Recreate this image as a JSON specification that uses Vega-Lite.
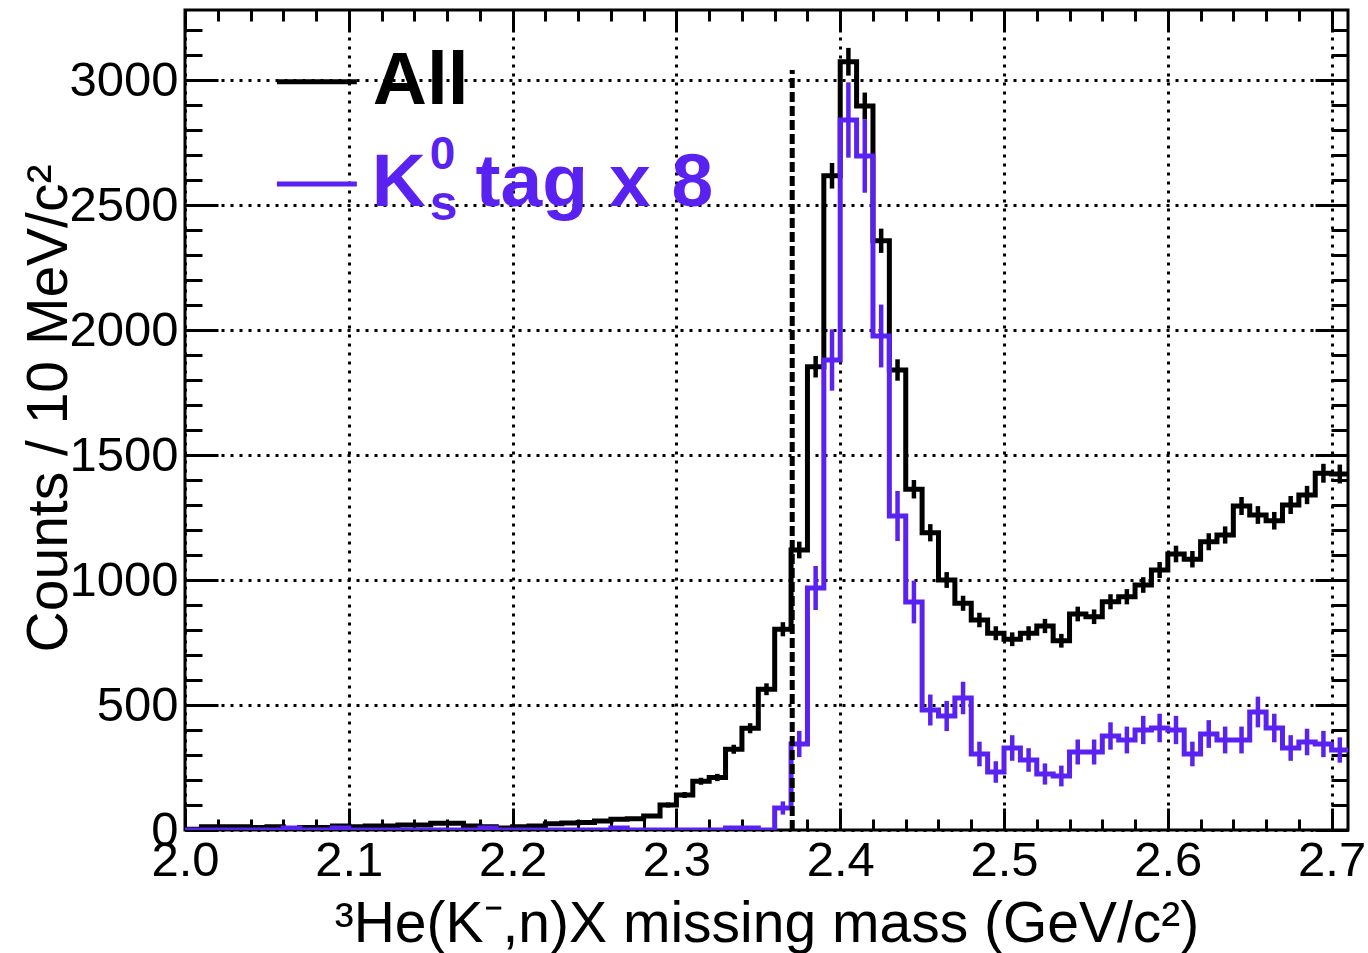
{
  "$schema": "https://vega.github.io/schema/vega-lite/v6.json",
  "width": 1163,
  "height": 820,
  "autosize": {"type": "none"},
  "padding": {"left": 185, "top": 10, "right": 20, "bottom": 123},
  "background": "white",
  "config": {
    "view": {"stroke": "black", "strokeWidth": 3},
    "font": "Liberation Sans",
    "axis": {"labelFont": "Liberation Sans", "titleFont": "Liberation Sans", "labelColor": "black", "titleColor": "black", "tickColor": "black", "titleFontWeight": "normal"}
  },
  "data": {"values": [{}]},
  "datasets": {
    "all": [
      {"x": 2.00, "xc": 2.005, "y": 3, "err": 1.7},
      {"x": 2.01, "xc": 2.015, "y": 13, "err": 3.6},
      {"x": 2.02, "xc": 2.025, "y": 13, "err": 3.6},
      {"x": 2.03, "xc": 2.035, "y": 13, "err": 3.6},
      {"x": 2.04, "xc": 2.045, "y": 10, "err": 3.2},
      {"x": 2.05, "xc": 2.055, "y": 13, "err": 3.6},
      {"x": 2.06, "xc": 2.065, "y": 6, "err": 2.4},
      {"x": 2.07, "xc": 2.075, "y": 10, "err": 3.2},
      {"x": 2.08, "xc": 2.085, "y": 10, "err": 3.2},
      {"x": 2.09, "xc": 2.095, "y": 16, "err": 4},
      {"x": 2.10, "xc": 2.105, "y": 13, "err": 3.6},
      {"x": 2.11, "xc": 2.115, "y": 16, "err": 4},
      {"x": 2.12, "xc": 2.125, "y": 16, "err": 4},
      {"x": 2.13, "xc": 2.135, "y": 20, "err": 4.5},
      {"x": 2.14, "xc": 2.145, "y": 20, "err": 4.5},
      {"x": 2.15, "xc": 2.155, "y": 27, "err": 5.2},
      {"x": 2.16, "xc": 2.165, "y": 27, "err": 5.2},
      {"x": 2.17, "xc": 2.175, "y": 16, "err": 4},
      {"x": 2.18, "xc": 2.185, "y": 13, "err": 3.6},
      {"x": 2.19, "xc": 2.195, "y": 8, "err": 2.8},
      {"x": 2.20, "xc": 2.205, "y": 13, "err": 3.6},
      {"x": 2.21, "xc": 2.215, "y": 16, "err": 4},
      {"x": 2.22, "xc": 2.225, "y": 25, "err": 5},
      {"x": 2.23, "xc": 2.235, "y": 28, "err": 5.3},
      {"x": 2.24, "xc": 2.245, "y": 30, "err": 5.5},
      {"x": 2.25, "xc": 2.255, "y": 36, "err": 6},
      {"x": 2.26, "xc": 2.265, "y": 43, "err": 6.6},
      {"x": 2.27, "xc": 2.275, "y": 45, "err": 6.7},
      {"x": 2.28, "xc": 2.285, "y": 56, "err": 7.5},
      {"x": 2.29, "xc": 2.295, "y": 100, "err": 10},
      {"x": 2.30, "xc": 2.305, "y": 140, "err": 11.8},
      {"x": 2.31, "xc": 2.315, "y": 195, "err": 14},
      {"x": 2.32, "xc": 2.325, "y": 210, "err": 14.5},
      {"x": 2.33, "xc": 2.335, "y": 323, "err": 18},
      {"x": 2.34, "xc": 2.345, "y": 407, "err": 20.2},
      {"x": 2.35, "xc": 2.355, "y": 563, "err": 23.7},
      {"x": 2.36, "xc": 2.365, "y": 803, "err": 28.3},
      {"x": 2.37, "xc": 2.375, "y": 1120, "err": 33.5},
      {"x": 2.38, "xc": 2.385, "y": 1853, "err": 43},
      {"x": 2.39, "xc": 2.395, "y": 2617, "err": 51.2},
      {"x": 2.40, "xc": 2.405, "y": 3073, "err": 55.4},
      {"x": 2.41, "xc": 2.415, "y": 2896, "err": 53.8},
      {"x": 2.42, "xc": 2.425, "y": 2357, "err": 48.5},
      {"x": 2.43, "xc": 2.435, "y": 1840, "err": 42.9},
      {"x": 2.44, "xc": 2.445, "y": 1363, "err": 36.9},
      {"x": 2.45, "xc": 2.455, "y": 1189, "err": 34.5},
      {"x": 2.46, "xc": 2.465, "y": 1000, "err": 31.6},
      {"x": 2.47, "xc": 2.475, "y": 907, "err": 30.1},
      {"x": 2.48, "xc": 2.485, "y": 840, "err": 29},
      {"x": 2.49, "xc": 2.495, "y": 787, "err": 28},
      {"x": 2.50, "xc": 2.505, "y": 763, "err": 27.6},
      {"x": 2.51, "xc": 2.515, "y": 787, "err": 28},
      {"x": 2.52, "xc": 2.525, "y": 816, "err": 28.6},
      {"x": 2.53, "xc": 2.535, "y": 757, "err": 27.5},
      {"x": 2.54, "xc": 2.545, "y": 864, "err": 29.4},
      {"x": 2.55, "xc": 2.555, "y": 853, "err": 29.2},
      {"x": 2.56, "xc": 2.565, "y": 913, "err": 30.2},
      {"x": 2.57, "xc": 2.575, "y": 933, "err": 30.5},
      {"x": 2.58, "xc": 2.585, "y": 980, "err": 31.3},
      {"x": 2.59, "xc": 2.595, "y": 1040, "err": 32.2},
      {"x": 2.60, "xc": 2.605, "y": 1104, "err": 33.2},
      {"x": 2.61, "xc": 2.615, "y": 1083, "err": 32.9},
      {"x": 2.62, "xc": 2.625, "y": 1153, "err": 34},
      {"x": 2.63, "xc": 2.635, "y": 1180, "err": 34.4},
      {"x": 2.64, "xc": 2.645, "y": 1296, "err": 36},
      {"x": 2.65, "xc": 2.655, "y": 1260, "err": 35.5},
      {"x": 2.66, "xc": 2.665, "y": 1237, "err": 35.2},
      {"x": 2.67, "xc": 2.675, "y": 1300, "err": 36.1},
      {"x": 2.68, "xc": 2.685, "y": 1340, "err": 36.6},
      {"x": 2.69, "xc": 2.695, "y": 1427, "err": 37.8},
      {"x": 2.70, "xc": 2.705, "y": 1424, "err": 37.7},
      {"x": 2.71, "y": 1424}
    ],
    "ks": [
      {"x": 2.00, "xc": 2.005, "y": 0, "err": 0},
      {"x": 2.01, "xc": 2.015, "y": 0, "err": 0},
      {"x": 2.02, "xc": 2.025, "y": 0, "err": 0},
      {"x": 2.03, "xc": 2.035, "y": 0, "err": 0},
      {"x": 2.04, "xc": 2.045, "y": 0, "err": 0},
      {"x": 2.05, "xc": 2.055, "y": 0, "err": 0},
      {"x": 2.06, "xc": 2.065, "y": 8, "err": 8},
      {"x": 2.07, "xc": 2.075, "y": 0, "err": 0},
      {"x": 2.08, "xc": 2.085, "y": 0, "err": 0},
      {"x": 2.09, "xc": 2.095, "y": 8, "err": 8},
      {"x": 2.10, "xc": 2.105, "y": 0, "err": 0},
      {"x": 2.11, "xc": 2.115, "y": 0, "err": 0},
      {"x": 2.12, "xc": 2.125, "y": 0, "err": 0},
      {"x": 2.13, "xc": 2.135, "y": 0, "err": 0},
      {"x": 2.14, "xc": 2.145, "y": 0, "err": 0},
      {"x": 2.15, "xc": 2.155, "y": 0, "err": 0},
      {"x": 2.16, "xc": 2.165, "y": 0, "err": 0},
      {"x": 2.17, "xc": 2.175, "y": 0, "err": 0},
      {"x": 2.18, "xc": 2.185, "y": 8, "err": 8},
      {"x": 2.19, "xc": 2.195, "y": 0, "err": 0},
      {"x": 2.20, "xc": 2.205, "y": 0, "err": 0},
      {"x": 2.21, "xc": 2.215, "y": 0, "err": 0},
      {"x": 2.22, "xc": 2.225, "y": 0, "err": 0},
      {"x": 2.23, "xc": 2.235, "y": 0, "err": 0},
      {"x": 2.24, "xc": 2.245, "y": 0, "err": 0},
      {"x": 2.25, "xc": 2.255, "y": 0, "err": 0},
      {"x": 2.26, "xc": 2.265, "y": 8, "err": 8},
      {"x": 2.27, "xc": 2.275, "y": 0, "err": 0},
      {"x": 2.28, "xc": 2.285, "y": 0, "err": 0},
      {"x": 2.29, "xc": 2.295, "y": 0, "err": 0},
      {"x": 2.30, "xc": 2.305, "y": 0, "err": 0},
      {"x": 2.31, "xc": 2.315, "y": 0, "err": 0},
      {"x": 2.32, "xc": 2.325, "y": 0, "err": 0},
      {"x": 2.33, "xc": 2.335, "y": 8, "err": 8},
      {"x": 2.34, "xc": 2.345, "y": 8, "err": 8},
      {"x": 2.35, "xc": 2.355, "y": 0, "err": 0},
      {"x": 2.36, "xc": 2.365, "y": 88, "err": 26.5},
      {"x": 2.37, "xc": 2.375, "y": 344, "err": 52.5},
      {"x": 2.38, "xc": 2.385, "y": 968, "err": 88},
      {"x": 2.39, "xc": 2.395, "y": 1880, "err": 122.6},
      {"x": 2.40, "xc": 2.405, "y": 2840, "err": 150.7},
      {"x": 2.41, "xc": 2.415, "y": 2696, "err": 146.9},
      {"x": 2.42, "xc": 2.425, "y": 1976, "err": 125.7},
      {"x": 2.43, "xc": 2.435, "y": 1256, "err": 100.2},
      {"x": 2.44, "xc": 2.445, "y": 912, "err": 85.4},
      {"x": 2.45, "xc": 2.455, "y": 480, "err": 62},
      {"x": 2.46, "xc": 2.465, "y": 456, "err": 60.4},
      {"x": 2.47, "xc": 2.475, "y": 528, "err": 65},
      {"x": 2.48, "xc": 2.485, "y": 304, "err": 49.3},
      {"x": 2.49, "xc": 2.495, "y": 232, "err": 43.1},
      {"x": 2.50, "xc": 2.505, "y": 328, "err": 51.2},
      {"x": 2.51, "xc": 2.515, "y": 280, "err": 47.3},
      {"x": 2.52, "xc": 2.525, "y": 224, "err": 42.3},
      {"x": 2.53, "xc": 2.535, "y": 216, "err": 41.6},
      {"x": 2.54, "xc": 2.545, "y": 312, "err": 50},
      {"x": 2.55, "xc": 2.555, "y": 312, "err": 50},
      {"x": 2.56, "xc": 2.565, "y": 376, "err": 54.8},
      {"x": 2.57, "xc": 2.575, "y": 360, "err": 53.7},
      {"x": 2.58, "xc": 2.585, "y": 400, "err": 56.6},
      {"x": 2.59, "xc": 2.595, "y": 408, "err": 57.1},
      {"x": 2.60, "xc": 2.605, "y": 400, "err": 56.6},
      {"x": 2.61, "xc": 2.615, "y": 304, "err": 49.3},
      {"x": 2.62, "xc": 2.625, "y": 384, "err": 55.4},
      {"x": 2.63, "xc": 2.635, "y": 360, "err": 53.7},
      {"x": 2.64, "xc": 2.645, "y": 360, "err": 53.7},
      {"x": 2.65, "xc": 2.655, "y": 472, "err": 61.4},
      {"x": 2.66, "xc": 2.665, "y": 408, "err": 57.1},
      {"x": 2.67, "xc": 2.675, "y": 328, "err": 51.2},
      {"x": 2.68, "xc": 2.685, "y": 352, "err": 53.1},
      {"x": 2.69, "xc": 2.695, "y": 344, "err": 52.5},
      {"x": 2.70, "xc": 2.705, "y": 320, "err": 50.6},
      {"x": 2.71, "y": 320}
    ]
  },
  "layer": [
    {
      "data": {"name": "all"},
      "mark": {"type": "line", "interpolate": "step-after", "color": "black", "strokeWidth": 5, "strokeJoin": "miter", "clip": true},
      "encoding": {
        "x": {"field": "x", "type": "quantitative", "scale": {"domain": [2.0, 2.71], "nice": false, "zero": false},
          "axis": {"orient": "bottom", "values": [2.0, 2.1, 2.2, 2.3, 2.4, 2.5, 2.6, 2.7], "format": ".1f", "tickSize": -22, "tickWidth": 3, "labelFontSize": 49, "labelPadding": 28, "labelOverlap": false, "labelFlush": false, "labelBound": false, "domain": false, "grid": true, "gridColor": "black", "gridDash": [3, 6], "gridWidth": 3, "gridOpacity": 1,
            "title": "³He(K⁻,n)X missing mass (GeV/c²)", "titleFontSize": 57, "titleY": 111, "titleBaseline": "alphabetic", "titleAnchor": "middle"}},
        "y": {"field": "y", "type": "quantitative", "scale": {"domain": [0, 3280], "nice": false},
          "axis": {"orient": "left", "values": [0, 500, 1000, 1500, 2000, 2500, 3000], "format": "d", "tickSize": -33, "tickWidth": 3, "labelFontSize": 49, "labelPadding": 40, "labelOverlap": false, "labelBound": false, "labelFlush": false, "domain": false, "grid": true, "gridColor": "black", "gridDash": [3, 6], "gridWidth": 3, "gridOpacity": 1,
            "title": "Counts / 10 MeV/c²", "titleFontSize": 57, "titleAngle": 270, "titleX": -119, "titleY": 398, "titleAlign": "center", "titleBaseline": "alphabetic"}}
      }
    },
    {
      "data": {"name": "all"},
      "transform": [{"filter": "isValid(datum.xc)"}],
      "mark": {"type": "errorbar", "color": "black", "thickness": 4.5, "rule": {"strokeWidth": 4.5}, "clip": true},
      "encoding": {
        "x": {"field": "xc", "type": "quantitative", "axis": null},
        "y": {"field": "y", "type": "quantitative", "axis": null},
        "yError": {"field": "err"}
      }
    },
    {
      "data": {"name": "ks"},
      "mark": {"type": "line", "interpolate": "step-after", "color": "#5a22f0", "strokeWidth": 5, "strokeJoin": "miter", "clip": true},
      "encoding": {
        "x": {"field": "x", "type": "quantitative",
          "axis": {"orient": "top", "values": [2.0, 2.1, 2.2, 2.3, 2.4, 2.5, 2.6, 2.7], "tickSize": -22, "tickWidth": 3, "labels": false, "domain": false, "grid": false, "title": null}},
        "y": {"field": "y", "type": "quantitative",
          "axis": {"orient": "right", "values": [0, 500, 1000, 1500, 2000, 2500, 3000], "tickSize": -33, "tickWidth": 3, "labels": false, "domain": false, "grid": false, "title": null}}
      }
    },
    {
      "data": {"name": "ks"},
      "transform": [{"filter": "isValid(datum.xc)"}],
      "mark": {"type": "errorbar", "color": "#5a22f0", "thickness": 4.5, "rule": {"strokeWidth": 4.5}, "clip": true},
      "encoding": {
        "x": {"field": "xc", "type": "quantitative", "axis": null},
        "y": {"field": "y", "type": "quantitative", "axis": null},
        "yError": {"field": "err"}
      }
    },
    {
      "mark": {"type": "rule", "color": "black", "strokeWidth": 5, "strokeDash": [10, 4]},
      "encoding": {
        "x": {"datum": 2.3707, "type": "quantitative",
          "axis": {"orient": "bottom", "values": [2.02, 2.04, 2.06, 2.08, 2.12, 2.14, 2.16, 2.18, 2.22, 2.24, 2.26, 2.28, 2.32, 2.34, 2.36, 2.38, 2.42, 2.44, 2.46, 2.48, 2.52, 2.54, 2.56, 2.58, 2.62, 2.64, 2.66, 2.68], "tickSize": -11, "tickWidth": 3, "labels": false, "domain": false, "grid": false, "title": null}},
        "y": {"datum": 0, "type": "quantitative",
          "axis": {"orient": "left", "values": [100, 200, 300, 400, 600, 700, 800, 900, 1100, 1200, 1300, 1400, 1600, 1700, 1800, 1900, 2100, 2200, 2300, 2400, 2600, 2700, 2800, 2900, 3100, 3200], "tickSize": -17, "tickWidth": 3, "labels": false, "domain": false, "grid": false, "title": null}},
        "y2": {"datum": 3040}
      }
    },
    {
      "mark": {"type": "rule", "color": "black", "strokeWidth": 5},
      "encoding": {
        "x": {"datum": 2.0561, "type": "quantitative",
          "axis": {"orient": "top", "values": [2.02, 2.04, 2.06, 2.08, 2.12, 2.14, 2.16, 2.18, 2.22, 2.24, 2.26, 2.28, 2.32, 2.34, 2.36, 2.38, 2.42, 2.44, 2.46, 2.48, 2.52, 2.54, 2.56, 2.58, 2.62, 2.64, 2.66, 2.68], "tickSize": -11, "tickWidth": 3, "labels": false, "domain": false, "grid": false, "title": null}},
        "x2": {"datum": 2.1049},
        "y": {"datum": 2993, "type": "quantitative",
          "axis": {"orient": "right", "values": [100, 200, 300, 400, 600, 700, 800, 900, 1100, 1200, 1300, 1400, 1600, 1700, 1800, 1900, 2100, 2200, 2300, 2400, 2600, 2700, 2800, 2900, 3100, 3200], "tickSize": -17, "tickWidth": 3, "labels": false, "domain": false, "grid": false, "title": null}}
      }
    },
    {
      "mark": {"type": "rule", "color": "#5a22f0", "strokeWidth": 5},
      "encoding": {
        "x": {"datum": 2.0561, "type": "quantitative", "axis": null},
        "x2": {"datum": 2.1049},
        "y": {"datum": 2584, "type": "quantitative", "axis": null}
      }
    },
    {
      "mark": {"type": "text", "text": "All", "font": "Liberation Sans", "fontWeight": "bold", "fontSize": 75, "color": "black", "align": "left", "baseline": "alphabetic"},
      "encoding": {
        "x": {"datum": 2.1146, "type": "quantitative", "axis": null},
        "y": {"datum": 2904, "type": "quantitative", "axis": null}
      }
    },
    {
      "mark": {"type": "text", "text": "K", "font": "Liberation Sans", "fontWeight": "bold", "fontSize": 75, "color": "#5a22f0", "align": "left", "baseline": "alphabetic"},
      "encoding": {
        "x": {"datum": 2.1140, "type": "quantitative", "axis": null},
        "y": {"datum": 2496, "type": "quantitative", "axis": null}
      }
    },
    {
      "mark": {"type": "text", "text": "0", "font": "Liberation Sans", "fontWeight": "bold", "fontSize": 46, "color": "#5a22f0", "align": "left", "baseline": "alphabetic"},
      "encoding": {
        "x": {"datum": 2.1494, "type": "quantitative", "axis": null},
        "y": {"datum": 2644, "type": "quantitative", "axis": null}
      }
    },
    {
      "mark": {"type": "text", "text": "s", "font": "Liberation Sans", "fontWeight": "bold", "fontSize": 50, "color": "#5a22f0", "align": "left", "baseline": "alphabetic"},
      "encoding": {
        "x": {"datum": 2.1494, "type": "quantitative", "axis": null},
        "y": {"datum": 2442, "type": "quantitative", "axis": null}
      }
    },
    {
      "mark": {"type": "text", "text": "tag x 8", "font": "Liberation Sans", "fontWeight": "bold", "fontSize": 75, "color": "#5a22f0", "align": "left", "baseline": "alphabetic"},
      "encoding": {
        "x": {"datum": 2.1774, "type": "quantitative", "axis": null},
        "y": {"datum": 2496, "type": "quantitative", "axis": null}
      }
    }
  ],
  "resolve": {"axis": {"x": "independent", "y": "independent"}}
}
